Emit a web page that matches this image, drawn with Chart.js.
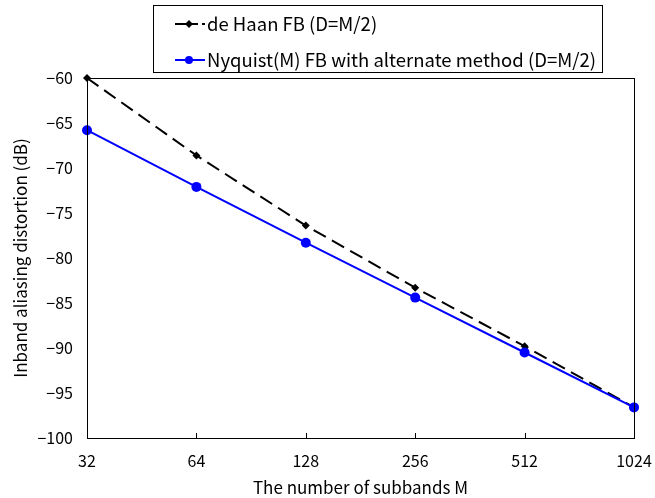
<!DOCTYPE html>
<html lang="en">
<head>
    <meta charset="UTF-8">
    <title>Inband aliasing distortion vs number of subbands</title>
    <script src="https://cdn.jsdelivr.net/npm/chart.js"></script>
    <style>
        html, body { margin: 0; padding: 0; background: #fff; }
        #wrap { width: 655px; height: 498px; position: relative; }
    </style>
</head>
<body>
    <div id="wrap"><canvas id="aliasChart" width="655" height="498"></canvas></div>
    <script>
        // subband counts (x) and distortion values in dB
        const subbands = [32, 64, 128, 256, 512, 1024];
        const deHaan = [-60.0, -68.6, -76.4, -83.3, -89.8, -96.6];
        const nyquist = [-65.8, -72.1, -78.3, -84.4, -90.5, -96.6];
        const xTicks = [32, 64, 128, 256, 512, 1024];
        const yTicks = [-100, -95, -90, -85, -80, -75, -70, -65, -60];

        const seriesNames = ['de Haan FB (D=M/2)', 'Nyquist(M) FB with alternate method (D=M/2)'];

        const FONT = '"Noto Sans CJK JP", "Noto Sans", sans-serif';

        // frame around the plot, inner ticks on x, and a boxed legend
        const framePlugin = {
            id: 'frame',
            afterDraw(chart) {
                const { ctx, chartArea: a } = chart;
                const xs = chart.scales.x;
                ctx.save();
                ctx.strokeStyle = '#000';
                ctx.lineWidth = 1;
                ctx.strokeRect(Math.round(a.left) + 0.5, Math.round(a.top) + 0.5,
                    Math.round(a.right - a.left), Math.round(a.bottom - a.top));
                xTicks.forEach(v => {
                    const px = Math.round(xs.getPixelForValue(v)) + 0.5;
                    ctx.beginPath();
                    ctx.moveTo(px, a.bottom);
                    ctx.lineTo(px, a.bottom - 5);
                    ctx.stroke();
                });

                // legend
                const lx = 153, ly = 5, lw = 449, lh = 67;
                ctx.fillStyle = '#fff';
                ctx.fillRect(lx, ly, lw, lh);
                ctx.strokeRect(lx + 0.5, ly + 0.5, lw, lh);
                const rows = [24, 60];
                chart.data.datasets.forEach((ds, i) => {
                    const y = rows[i];
                    ctx.strokeStyle = ds.borderColor;
                    ctx.lineWidth = 2;
                    ctx.setLineDash(ds.borderDash ? [23, 4, 4, 20] : []);
                    ctx.beginPath();
                    ctx.moveTo(175, y);
                    ctx.lineTo(205, y);
                    ctx.stroke();
                    ctx.setLineDash([]);
                    ctx.fillStyle = ds.pointBackgroundColor;
                    ctx.beginPath();
                    if (ds.pointStyle === 'rectRot') {
                        const r = 4;
                        ctx.moveTo(189, y - r); ctx.lineTo(189 + r, y);
                        ctx.lineTo(189, y + r); ctx.lineTo(189 - r, y);
                        ctx.closePath();
                    } else {
                        ctx.arc(189, y, 4, 0, Math.PI * 2);
                    }
                    ctx.fill();
                    ctx.fillStyle = '#000';
                    ctx.font = '18.5px ' + FONT;
                    ctx.textBaseline = 'middle';
                    ctx.textAlign = 'left';
                    ctx.fillText(ds.label, 207, y);
                });
                ctx.restore();
            }
        };

        const ctx = document.getElementById('aliasChart').getContext('2d');
        const aliasChart = new Chart(ctx, {
            type: 'line',
            data: {
                datasets: [{
                    label: seriesNames[0],
                    data: subbands.map((m, i) => ({ x: m, y: deHaan[i] })),
                    order: 1,
                    borderColor: '#000',
                    borderWidth: 2,
                    borderDash: [14, 7],
                    pointStyle: 'rectRot',
                    pointRadius: 4,
                    pointBackgroundColor: '#000',
                    pointBorderColor: '#000',
                    pointBorderWidth: 0,
                    tension: 0
                }, {
                    label: seriesNames[1],
                    data: subbands.map((m, i) => ({ x: m, y: nyquist[i] })),
                    order: 0,
                    borderColor: '#0000ff',
                    borderWidth: 2,
                    pointStyle: 'circle',
                    pointRadius: 5,
                    pointBackgroundColor: '#0000ff',
                    pointBorderColor: '#0000ff',
                    pointBorderWidth: 0,
                    tension: 0
                }]
            },
            options: {
                responsive: false,
                animation: false,
                clip: false,
                layout: { padding: { top: 78, right: 21, left: 0, bottom: 0 } },
                plugins: {
                    legend: { display: false },
                    tooltip: { enabled: false }
                },
                scales: {
                    x: {
                        type: 'logarithmic',
                        min: 32,
                        max: 1024,
                        afterBuildTicks: s => { s.ticks = xTicks.map(v => ({ value: v })); },
                        afterFit: s => { s.height = 60; s.paddingLeft = 0; s.paddingRight = 0; },
                        grid: { display: false, drawTicks: false },
                        border: { display: false },
                        ticks: {
                            color: '#000',
                            font: { family: FONT, size: 16 },
                            padding: 13,
                            maxRotation: 0,
                            autoSkip: false,
                            callback: v => String(v)
                        },
                        title: {
                            display: true,
                            text: 'The number of subbands M',
                            color: '#000',
                            font: { family: FONT, size: 17 },
                            padding: { top: 1, bottom: 0 }
                        }
                    },
                    y: {
                        min: -100,
                        max: -60,
                        afterBuildTicks: s => { s.ticks = yTicks.map(v => ({ value: v })); },
                        afterFit: s => { s.width = 87; s.paddingTop = 0; s.paddingBottom = 0; },
                        grid: { display: false, drawTicks: false },
                        border: { display: false },
                        ticks: {
                            color: '#000',
                            font: { family: FONT, size: 16 },
                            padding: 14,
                            callback: v => String(v).replace('-', '\u2212')
                        },
                        title: {
                            display: true,
                            text: 'Inband aliasing distortion (dB)',
                            color: '#000',
                            font: { family: FONT, size: 17 },
                            padding: { top: 10, bottom: 0 }
                        }
                    }
                }
            },
            plugins: [framePlugin]
        });
    </script>
</body>
</html>
